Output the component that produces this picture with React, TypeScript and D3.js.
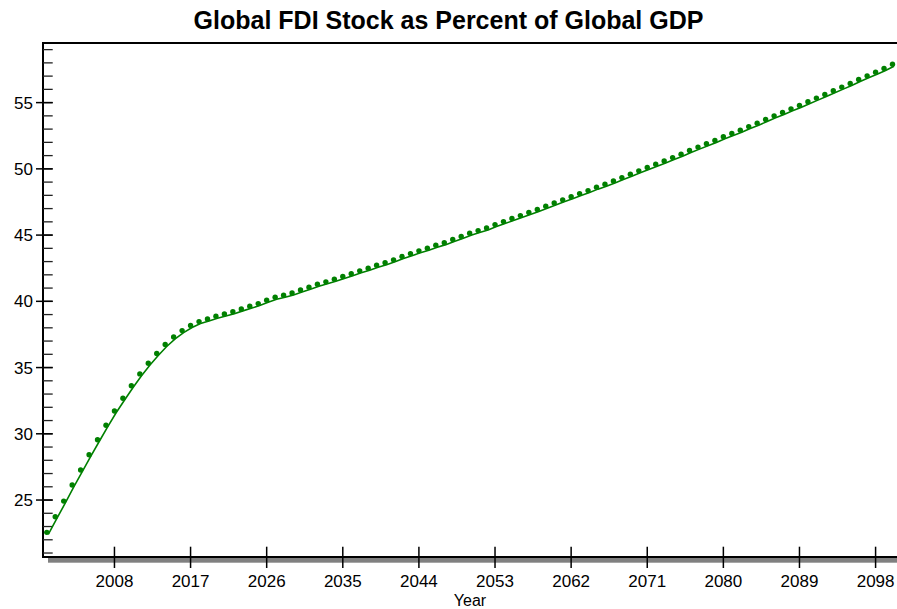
import React from "react";
import * as d3 from "d3";

// Global FDI stock as % of global GDP, one value per year 2000..2100
const startYear = 2000;
const fdiShare: number[] = [
  22.56, 23.74, 24.92, 26.13, 27.27, 28.42, 29.55, 30.65, 31.72, 32.68,
  33.63, 34.52, 35.32, 36.06, 36.74, 37.31, 37.79, 38.17, 38.47, 38.67,
  38.87, 39.05, 39.22, 39.43, 39.63, 39.83, 40.08, 40.31, 40.46, 40.63,
  40.86, 41.07, 41.29, 41.47, 41.67, 41.87, 42.09, 42.30, 42.50, 42.73,
  42.92, 43.13, 43.38, 43.60, 43.81, 44.01, 44.24, 44.43, 44.67, 44.89,
  45.14, 45.34, 45.54, 45.79, 46.02, 46.25, 46.47, 46.70, 46.93, 47.18,
  47.43, 47.66, 47.89, 48.13, 48.36, 48.62, 48.84, 49.09, 49.34, 49.60,
  49.85, 50.10, 50.35, 50.60, 50.85, 51.11, 51.38, 51.64, 51.89, 52.14,
  52.42, 52.67, 52.92, 53.19, 53.45, 53.72, 54.00, 54.25, 54.53, 54.78,
  55.06, 55.34, 55.61, 55.89, 56.17, 56.44, 56.74, 57.02, 57.30, 57.57,
  57.90,
];
const xTickYears: number[] = [2008, 2017, 2026, 2035, 2044, 2053, 2062, 2071, 2080, 2089, 2098];
const yMajorTicks: number[] = [25, 30, 35, 40, 45, 50, 55];
const yMinorTicks: number[] = d3.range(21, 60);

const title = "Global FDI Stock as Percent of Global GDP";
const xTitle = "Year";

const W = 897;
const H = 609;
const plotLeft = 43;
const plotTop = 43;
const plotBottom = 557;
const plotRight = 897;
const green = "#008000";
const font = "'Liberation Sans', Arial, sans-serif";

export default function App() {
  const data = fdiShare.map((v, i) => ({ year: startYear + i, value: v }));

  const x = d3.scaleLinear().domain([2000, 2100]).range([46.8, 892.5]);
  const y = d3.scaleLinear().domain([20.7, 59.5]).range([plotBottom, plotTop]);

  const line = d3
    .line<{ year: number; value: number }>()
    .x((d) => x(d.year))
    .y((d) => y(d.value))
    .curve(d3.curveLinear);

  return (
    <svg
      width={W}
      height={H}
      style={{ position: "absolute", left: 0, top: 0, background: "#fff" }}
      fontFamily={font}
    >
      <rect x={0} y={0} width={W} height={H} fill="#fff" />

      {/* title */}
      <text x={448.5} y={29} textAnchor="middle" fontSize={25} fontWeight="bold" fill="#000">
        {title}
      </text>

      {/* shadow under the x axis */}
      <rect x={48} y={558} width={plotRight - 48} height={4.7} fill="#808080" />

      {/* frame: top and left, bottom axis */}
      <line x1={plotLeft} x2={plotRight} y1={plotTop} y2={plotTop} stroke="#000" strokeWidth={2} />
      <line x1={plotLeft} x2={plotLeft} y1={plotTop - 1} y2={plotBottom + 1} stroke="#000" strokeWidth={2} />
      <line x1={plotLeft} x2={plotRight} y1={plotBottom} y2={plotBottom} stroke="#000" strokeWidth={2} />

      {/* y minor ticks */}
      {yMinorTicks.map((t) => (
        <line key={"m" + t} x1={plotLeft} x2={52.7} y1={y(t)} y2={y(t)} stroke="#222" strokeWidth={1.3} />
      ))}
      {/* y major ticks and labels */}
      {yMajorTicks.map((t) => (
        <g key={"M" + t}>
          <line x1={36} x2={52.7} y1={y(t)} y2={y(t)} stroke="#000" strokeWidth={1.5} />
          <text x={33} y={y(t)} dy="0.36em" textAnchor="end" fontSize={17} fill="#000">
            {t}
          </text>
        </g>
      ))}

      {/* x ticks and labels */}
      {xTickYears.map((t) => (
        <g key={"x" + t}>
          <line x1={x(t)} x2={x(t)} y1={546.7} y2={568} stroke="#000" strokeWidth={1.5} />
          <text x={x(t)} y={586.5} textAnchor="middle" fontSize={17} fill="#000">
            {t}
          </text>
        </g>
      ))}
      <text x={470} y={606} textAnchor="middle" fontSize={16} fill="#000">
        {xTitle}
      </text>

      {/* series */}
      <path
        d={line(data) ?? ""}
        transform="translate(1.5,2)"
        fill="none"
        stroke={green}
        strokeWidth={1.6}
      />
      {data.map((d) => (
        <circle key={d.year} cx={x(d.year)} cy={y(d.value)} r={2.7} fill={green} />
      ))}
    </svg>
  );
}
